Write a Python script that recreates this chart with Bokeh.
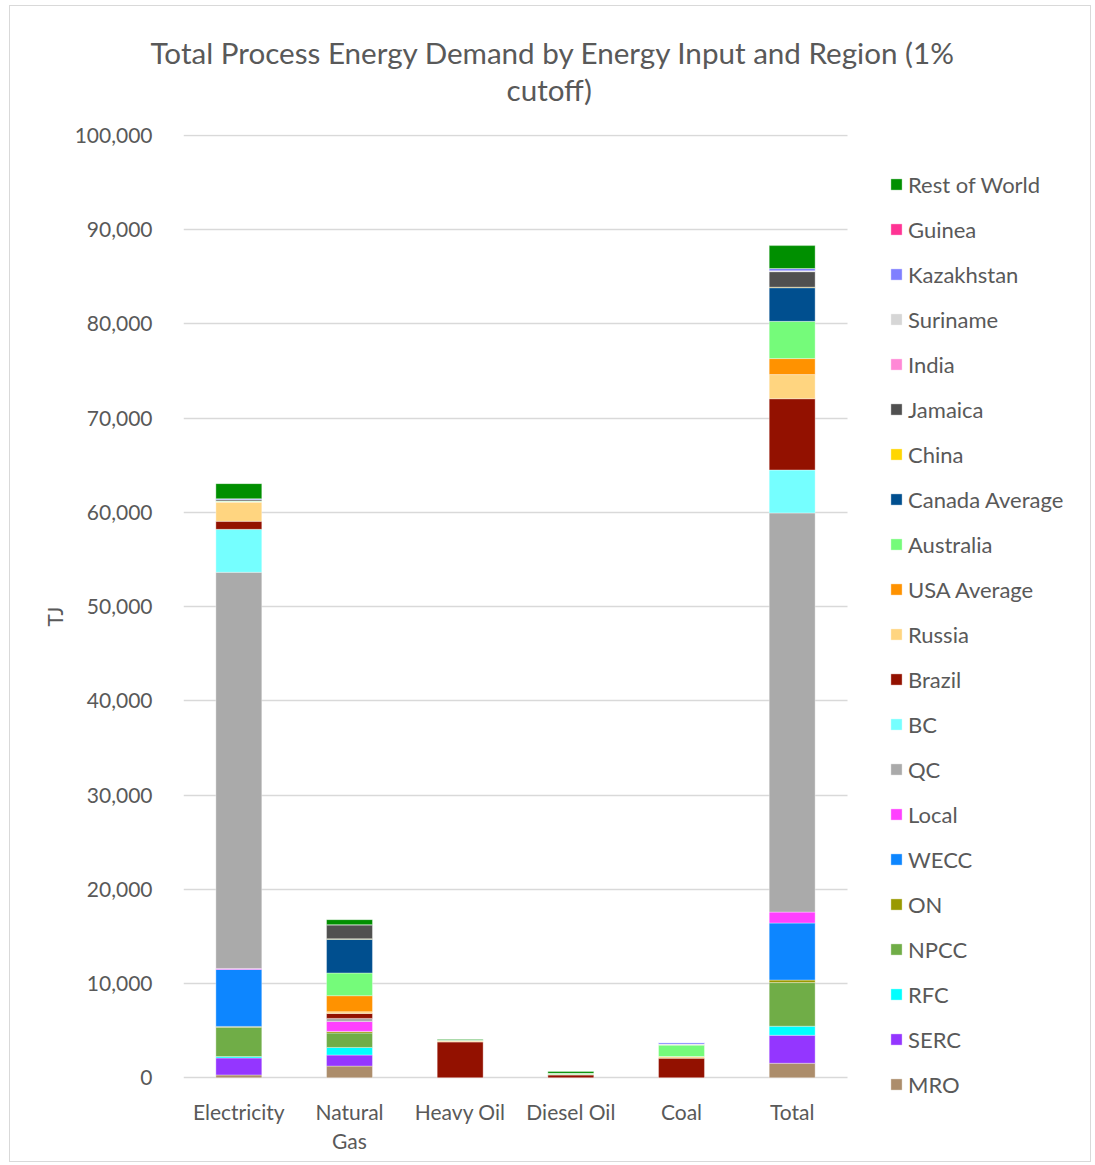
from bokeh.plotting import figure
from bokeh.models import (Range1d, Legend, LegendItem, Title, LinearAxis, FixedTicker,
                          NumeralTickFormatter, CustomJSTickFormatter, ColumnDataSource)
from bokeh.embed import file_html
from bokeh.resources import INLINE

# Energy inputs shown on the x axis (the last column is the sum of the others)
categories = ["Electricity", "Natural Gas", "Heavy Oil", "Diesel Oil", "Coal", "Total"]

# Regions in stacking order (bottom to top)
regions = ["MRO", "SERC", "RFC", "NPCC", "ON", "WECC", "Local", "QC", "BC", "Brazil",
           "Russia", "USA Average", "Australia", "Canada Average", "China", "Jamaica",
           "India", "Suriname", "Kazakhstan", "Guinea", "Rest of World"]

colors = ["#AC8D6B", "#9436FF", "#00FFFF", "#70AD47", "#999900", "#0D86FF", "#FF40FF",
          "#AAAAAA", "#75FFFF", "#931100", "#FFD580", "#FF9200", "#75FB7A", "#004F8F",
          "#FFD600", "#505050", "#FF88D6", "#D6D6D6", "#7F7FFF", "#FF3394", "#008F00"]

# Process energy demand in TJ, one value per region (same order as `regions`)
electricity = [300, 1800, 150, 3100, 100, 6050, 100, 42040, 4560, 850,
               2050, 0, 100, 0, 0, 150, 0, 0, 100, 0, 1600]
natural_gas = [1240, 1170, 810, 1530, 170, 0, 1060, 320, 0, 530,
               180, 1700, 2410, 3570, 60, 1500, 0, 0, 0, 0, 530]
heavy_oil = [0, 0, 0, 0, 0, 0, 0, 0, 0, 3800,
             120, 0, 50, 0, 0, 0, 0, 0, 0, 0, 100]
diesel_oil = [0, 0, 0, 0, 0, 0, 0, 0, 0, 300,
              40, 0, 130, 0, 0, 0, 0, 0, 0, 0, 200]
coal = [0, 0, 0, 0, 0, 0, 0, 0, 0, 2080,
        170, 0, 1260, 0, 0, 0, 0, 80, 150, 0, 0]

inputs = [electricity, natural_gas, heavy_oil, diesel_oil, coal]
total = [sum(vals) for vals in zip(*inputs)]

# Category slots sit at half-integer positions; the plot area continues to the
# right past the last slot to leave room for the legend
slots = [i + 0.5 for i in range(len(categories))]
data = {"x": slots}
for i, reg in enumerate(regions):
    data[reg] = [series[i] for series in inputs] + [total[i]]
source = ColumnDataSource(data)

TEXT = "#595959"
GRID = "#D9D9D9"
FONT = "Lato"
SLOT_PX = 664 / len(categories)

p = figure(width=1082, height=1157, x_range=Range1d(0, 909 / SLOT_PX),
           y_range=Range1d(-2200, 100100), output_backend="svg", toolbar_location=None,
           min_border_left=173, min_border_right=0, min_border_top=128,
           min_border_bottom=65, margin=(5, 0, 0, 9),
           styles={"border": "1px solid #D9D9D9"}, x_axis_type=None)
p.outline_line_color = None
p.grid.visible = False

renderers = p.vbar_stack(regions, x="x", width=0.415, color=colors, source=source,
                         line_color="white", line_alpha=0.35, line_width=1)

# Two-line title, stacked above a blank spacer next to the plot area
p.add_layout(Title(text=" ", text_font_size="10px", standoff=13), "above")
p.add_layout(Title(text="cutoff)", align="left", offset=323, vertical_align="middle",
                   standoff=1, text_font=FONT, text_font_size="29.6px",
                   text_font_style="normal", text_color=TEXT), "above")
p.add_layout(Title(text="Total Process Energy Demand by Energy Input and Region (1%",
                   align="left", offset=-33, vertical_align="middle", standoff=0,
                   text_font=FONT, text_font_size="29.6px", text_font_style="normal",
                   text_color=TEXT), "above")

# Value axis with tick labels and the "TJ" title
yaxis = p.yaxis[0]
yaxis.ticker.desired_num_ticks = 10
yaxis.formatter = NumeralTickFormatter(format="0,0")
yaxis.axis_line_color = None
yaxis.major_tick_line_color = None
yaxis.minor_tick_line_color = None
yaxis.major_tick_out = 0
yaxis.major_tick_in = 0
yaxis.major_label_standoff = 23
yaxis.major_label_text_font = FONT
yaxis.major_label_text_font_size = "21px"
yaxis.major_label_text_color = TEXT
yaxis.axis_label = "TJ"
yaxis.axis_label_text_font = FONT
yaxis.axis_label_text_font_style = "normal"
yaxis.axis_label_text_font_size = "21px"
yaxis.axis_label_text_color = TEXT
yaxis.axis_label_standoff = 5

# Unlabelled companion axis next to the plot area: its long inward ticks form
# the horizontal grid behind the bars, stopping at the last category slot
grid_axis = LinearAxis(level="underlay",
                       formatter=CustomJSTickFormatter(code="return ''"))
grid_axis.ticker.desired_num_ticks = 10
grid_axis.axis_line_color = None
grid_axis.major_tick_line_color = GRID
grid_axis.major_tick_line_width = 1.3
grid_axis.major_tick_in = int(SLOT_PX * len(categories))
grid_axis.major_tick_out = 0
grid_axis.minor_tick_line_color = None
grid_axis.major_label_standoff = 0
p.left = [grid_axis] + list(p.left)

# Category labels: first line on one axis, "Gas" on a second axis beneath it
first_line = [c.split(" ")[0] if c == "Natural Gas" else c for c in categories]
second_line = ["Gas" if c == "Natural Gas" else "" for c in categories]
for lines, standoff in [(first_line, 0), (second_line, 1)]:
    ax = LinearAxis(ticker=FixedTicker(ticks=slots),
                    formatter=CustomJSTickFormatter(
                        args={"labels": lines},
                        code="return labels[Math.floor(tick)] || ''"))
    ax.axis_line_color = None
    ax.major_tick_line_color = None
    ax.minor_tick_line_color = None
    ax.major_tick_out = 0
    ax.major_tick_in = 0
    ax.major_label_standoff = standoff
    ax.major_label_text_font = FONT
    ax.major_label_text_font_size = "21px"
    ax.major_label_text_color = TEXT
    p.add_layout(ax, "below")

# Legend listed top-down from the last stacked region
items = [LegendItem(label=reg, renderers=[r]) for reg, r in zip(regions, renderers)][::-1]
legend = Legend(items=items, location=(706, -1), ncols=1, glyph_width=14, glyph_height=14,
                label_height=30, spacing=15, padding=0, margin=0,
                label_standoff=5, label_text_font=FONT, label_text_font_size="22px",
                label_text_color=TEXT, border_line_color=None, background_fill_alpha=0)
p.add_layout(legend)

open("out.html", "w").write(file_html(p, INLINE))
